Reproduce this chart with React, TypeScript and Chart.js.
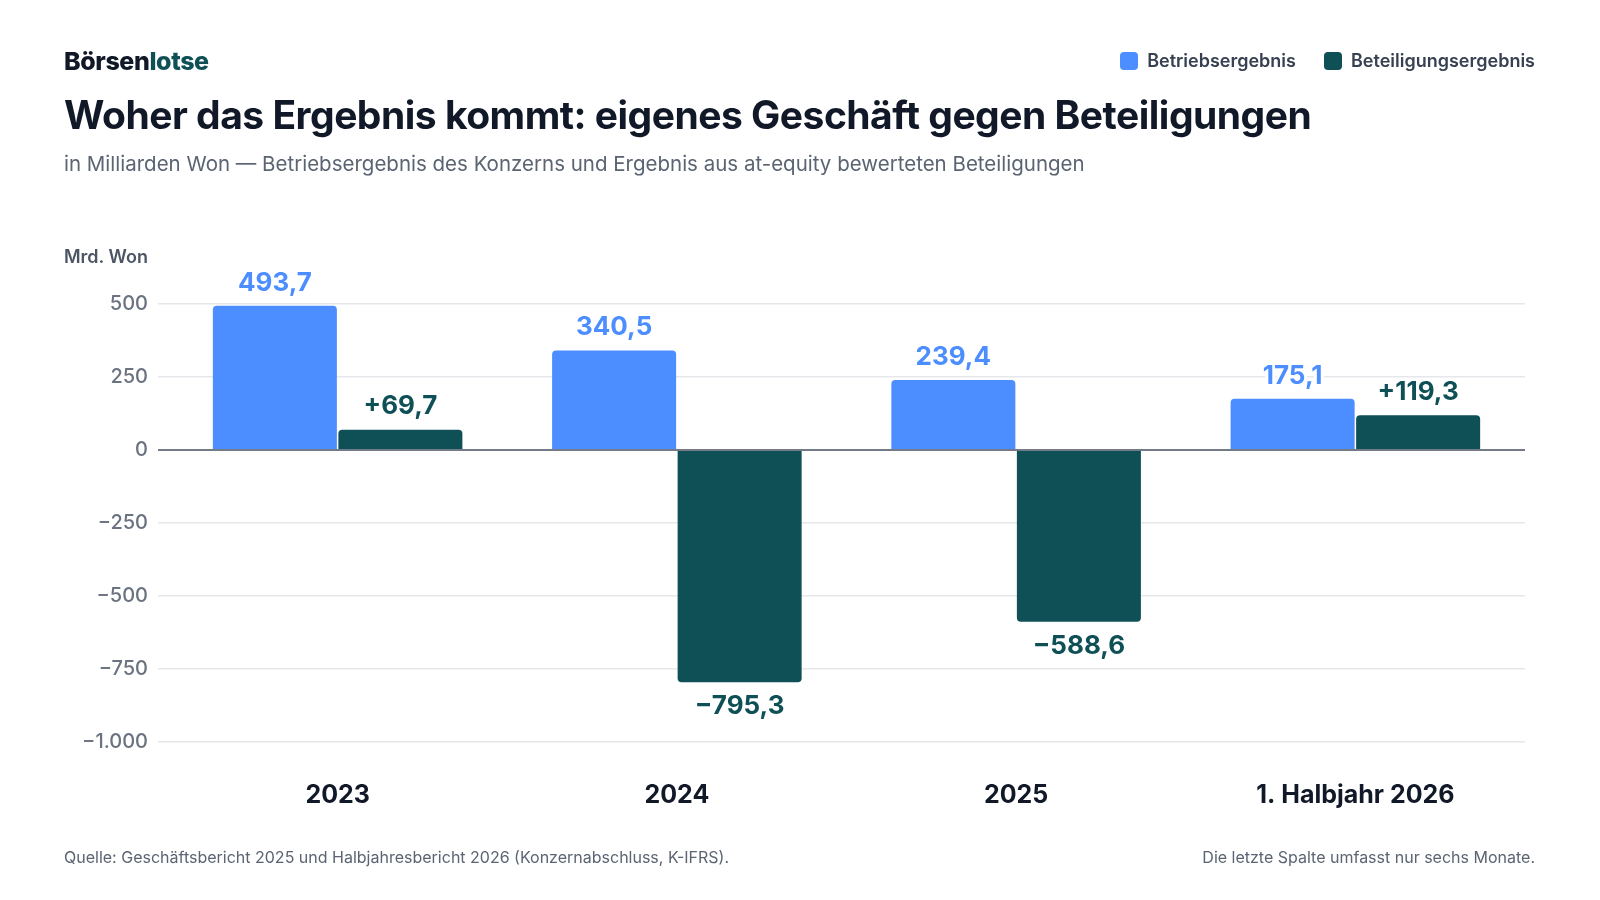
import { useEffect, useRef } from "react";
import { Chart, registerables } from "chart.js";

Chart.register(...registerables);

const categories = ["2023", "2024", "2025", "1. Halbjahr 2026"];
const betriebsergebnis = [493.7, 340.5, 239.4, 175.1];
const beteiligungsergebnis = [69.7, -795.3, -588.6, 119.3];
const yTicks = [500, 250, 0, -250, -500, -750, -1000];

const BLUE = "#4c8dff";
const TEAL = "#0f5057";
const FONT = "Inter, 'Noto Sans', sans-serif";

const fmtValue = (v: number, signed: boolean) => {
  const abs = Math.abs(v).toFixed(1).replace(".", ",");
  if (v < 0) return "\u2212" + abs;
  return (signed ? "+" : "") + abs;
};

const fmtTick = (v: number) => {
  const abs = String(Math.abs(v)).replace(/\B(?=(\d{3})+(?!\d))/g, ".");
  return (v < 0 ? "\u2212" : "") + abs;
};

// draws the value above (or below) each bar
const valueLabels = {
  id: "valueLabels",
  afterDatasetsDraw(chart: any) {
    const ctx = chart.ctx;
    chart.data.datasets.forEach((ds: any, di: number) => {
      const meta = chart.getDatasetMeta(di);
      meta.data.forEach((bar: any, i: number) => {
        const v = ds.data[i] as number;
        const text = fmtValue(v, di === 1);
        const y = v >= 0 ? bar.y - 23 : bar.y + 24;
        ctx.save();
        ctx.font = `700 26px ${FONT}`;
        ctx.textAlign = "center";
        ctx.textBaseline = "middle";
        ctx.lineJoin = "round";
        ctx.lineWidth = 6;
        ctx.strokeStyle = "#ffffff";
        ctx.strokeText(text, bar.x, y);
        ctx.fillStyle = ds.backgroundColor;
        ctx.fillText(text, bar.x, y);
        ctx.restore();
      });
    });
  },
};

const BarChart = () => {
  const chartRef = useRef<HTMLCanvasElement>(null);

  useEffect(() => {
    if (!chartRef.current) return;
    const ctx = chartRef.current.getContext("2d");
    if (!ctx) return;
    const chart = new Chart(ctx, {
      type: "bar",
      data: {
        labels: categories,
        datasets: [
          {
            label: "Betriebsergebnis",
            data: betriebsergebnis,
            backgroundColor: BLUE,
            borderRadius: 4,
            categoryPercentage: 0.74,
            barPercentage: 0.988,
          },
          {
            label: "Beteiligungsergebnis",
            data: beteiligungsergebnis,
            backgroundColor: TEAL,
            borderRadius: 4,
            categoryPercentage: 0.74,
            barPercentage: 0.988,
          },
        ],
      },
      options: {
        responsive: true,
        maintainAspectRatio: false,
        animation: false,
        layout: { padding: { left: 64, right: 75, top: 304, bottom: 58 } },
        plugins: {
          legend: { display: false },
          tooltip: { enabled: false },
        },
        scales: {
          x: {
            grid: { display: false, drawTicks: false },
            border: { display: false },
            ticks: {
              color: "#111827",
              padding: 38,
              font: { family: FONT, size: 25, weight: 700 },
            },
            afterFit: (scale: any) => {
              scale.height = 100;
            },
          },
          y: {
            min: -1000,
            max: 500,
            border: { display: false },
            grid: {
              color: (c: any) => (c.tick && c.tick.value === 0 ? "#737b88" : "#e5e7eb"),
              lineWidth: (c: any) => (c.tick && c.tick.value === 0 ? 2 : 1.5),
              drawTicks: true,
              tickLength: 10,
            },
            ticks: {
              color: "#6b7280",
              padding: 10,
              font: { family: FONT, size: 20, weight: 500 },
              callback: (v: any) => fmtTick(Number(v)),
            },
            afterBuildTicks: (scale: any) => {
              scale.ticks = yTicks.map((v) => ({ value: v }));
            },
            afterFit: (scale: any) => {
              scale.width = 104;
            },
          },
        },
      },
      plugins: [valueLabels],
    });
    return () => chart.destroy();
  }, []);

  return <canvas ref={chartRef}></canvas>;
};

const abs = (top: number, extra: any = {}) => ({
  position: "absolute" as const,
  top,
  lineHeight: 1,
  whiteSpace: "nowrap" as const,
  zIndex: 2,
  ...extra,
});

export default function App() {
  return (
    <div
      style={{
        position: "absolute",
        left: 0,
        top: 0,
        width: 1600,
        height: 900,
        background: "#ffffff",
        fontFamily: FONT,
        overflow: "hidden",
      }}
    >
      <div style={{ position: "absolute", left: 0, top: 0, width: 1600, height: 900 }}>
        <BarChart />
      </div>

      <div style={abs(49, { left: 64, fontSize: 25, fontWeight: 800, color: "#111827", letterSpacing: -0.4 })}>
        Börsen<span style={{ color: TEAL }}>lotse</span>
      </div>

      <div
        style={abs(52, {
          right: 65,
          display: "flex",
          alignItems: "center",
          gap: 28,
          fontSize: 18,
          fontWeight: 600,
          color: "#374151",
        })}
      >
        <div style={{ display: "flex", alignItems: "center", gap: 9 }}>
          <span style={{ width: 18, height: 18, borderRadius: 4, background: BLUE, display: "inline-block" }} />
          Betriebsergebnis
        </div>
        <div style={{ display: "flex", alignItems: "center", gap: 9 }}>
          <span style={{ width: 18, height: 18, borderRadius: 4, background: TEAL, display: "inline-block" }} />
          Beteiligungsergebnis
        </div>
      </div>

      <div style={abs(95, { left: 64, fontSize: 39, fontWeight: 700, color: "#111827", letterSpacing: -0.5 })}>
        Woher das Ergebnis kommt: eigenes Geschäft gegen Beteiligungen
      </div>

      <div style={abs(154, { left: 64, fontSize: 20.5, fontWeight: 400, color: "#5b6472" })}>
        in Milliarden Won — Betriebsergebnis des Konzerns und Ergebnis aus at-equity bewerteten Beteiligungen
      </div>

      <div style={abs(248, { left: 64, fontSize: 18, fontWeight: 600, color: "#4b5563" })}>Mrd. Won</div>

      <div style={abs(849, { left: 64, fontSize: 16, color: "#5b6472" })}>
        Quelle: Geschäftsbericht 2025 und Halbjahresbericht 2026 (Konzernabschluss, K-IFRS).
      </div>
      <div style={abs(849, { right: 65, fontSize: 16, color: "#5b6472" })}>
        Die letzte Spalte umfasst nur sechs Monate.
      </div>
    </div>
  );
}
